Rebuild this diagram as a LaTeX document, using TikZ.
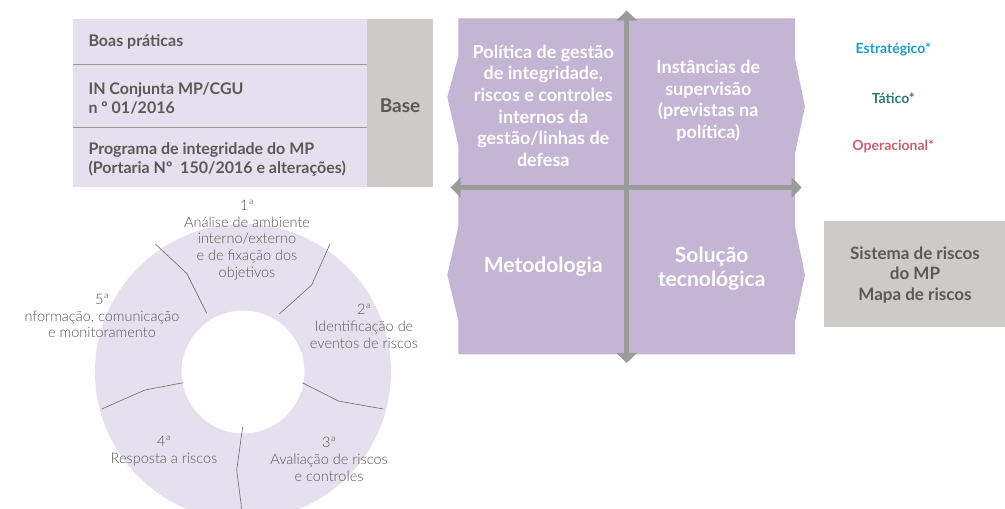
\documentclass[tikz,border=0pt]{standalone}
\usepackage{fontspec}
\setmainfont{Lato}
\newfontfamily\lightfont{Lato Light}
\usetikzlibrary{arrows.meta}
\definecolor{lav}{HTML}{E6E0EE}
\definecolor{purp}{HTML}{C5B5D5}
\definecolor{boxgray}{HTML}{CCCBC9}
\definecolor{txtgray}{HTML}{595959}
\definecolor{ringtxt}{HTML}{555555}
\definecolor{ringline}{HTML}{6A6A6A}
\definecolor{arrgray}{HTML}{9A9A9A}
\definecolor{cblue}{HTML}{1E9ACF}
\definecolor{cteal}{HTML}{2B7A78}
\definecolor{cred}{HTML}{C9606D}
\tikzset{
  basetxt/.style={anchor=west, text=txtgray, font=\bfseries\fontsize{16}{19}\selectfont, align=left, inner sep=0},
  ringlbl/.style={text=ringtxt, font=\lightfont\fontsize{14.5}{16.7}\selectfont, align=center, inner sep=0},
  quadtxt/.style={text=white, font=\bfseries\fontsize{18}{21.7}\selectfont, align=center, inner sep=0},
  bigquad/.style={text=white, font=\bfseries\fontsize{21}{23.3}\selectfont, align=center, inner sep=0},
  levtxt/.style={font=\bfseries\fontsize{14}{16}\selectfont, inner sep=0},
  divline/.style={draw=ringline, line width=0.6pt},
  axis/.style={draw=arrgray, line width=5pt, {Triangle[length=10pt,width=20pt]}-{Triangle[length=10pt,width=20pt]}}
}
\begin{document}
\begin{tikzpicture}[x=1pt,y=-1pt]
\useasboundingbox (0,0) rectangle (1005,509);
\clip (0,0) rectangle (1005,509);
% Base box
\fill[lav] (72.7,19) rectangle (366.7,186.7);
\fill[boxgray] (366.7,19) rectangle (433.3,186.7);
\draw[draw=arrgray, line width=0.8pt] (72.7,64.3) -- (366.7,64.3);
\draw[draw=arrgray, line width=0.8pt] (72.7,127.3) -- (366.7,127.3);
\node[basetxt] (bp) at (88.3,42.3) {Boas práticas};
\node[basetxt] (in) at (88.3,98.7) {IN Conjunta MP/CGU\\n º 01/2016};
\node[basetxt] (pi) at (88.3,159.5) {Programa de integridade do MP\\(Portaria Nº~ 150/2016 e alterações)};
\node[text=txtgray, font=\bfseries\fontsize{19}{22}\selectfont, inner sep=0] (base) at (400,105.7) {Base};
% Ring
\fill[lav, even odd rule] (243,372) circle (148) (243,372) circle (61.5);
\draw[divline] (155.3,244) -- (186.7,273.3) -- (206.7,313.3);
\draw[divline] (330,244) -- (311.7,285) -- (279.3,314);
\draw[divline] (302.3,382.7) -- (338.3,401) -- (383.3,409);
\draw[divline] (242.7,426.7) -- (236.7,470) -- (241.7,509);
\draw[divline] (183.3,382.7) -- (145,390) -- (101.7,409);
\node[ringlbl] (r1) at (247,240) {1ª\\Análise de ambiente\\interno/externo\\e de fixação dos\\objetivos};
\node[ringlbl] (r2) at (364,326.5) {2ª\\Identificação de\\eventos de riscos};
\node[ringlbl] (r3) at (329,459.5) {3ª\\Avaliação de riscos\\e controles};
\node[ringlbl] (r4) at (164,451) {4ª\\Resposta a riscos};
\node[ringlbl] (r5) at (102,316) {5ª\\nformação, comunicação\\e monitoramento};
% Matrix
\fill[purp] (458.3,18.3) -- (795,18.3) -- (795,58.3) -- (805,106.7) -- (795,153.3) -- (795,226.7) -- (805,275) -- (795,321.7) -- (795,354.3) -- (458.3,354.3) -- (458.3,320) -- (447.3,275) -- (458.3,226.7) -- (458.3,145) -- (447.3,97.3) -- (458.3,56.7) -- cycle;
\coordinate (vt) at (626.7,10.5);
\coordinate (vb) at (626.7,363);
\coordinate (hl) at (450.7,187.5);
\coordinate (hr) at (801.7,187.5);
\draw[axis] (vb) -- (vt);
\draw[axis] (hl) -- (hr);
\node[quadtxt] (q1) at (543.3,105.8) {Política de gestão\\de integridade,\\riscos e controles\\internos da\\gestão/linhas de\\defesa};
\node[quadtxt] (q2) at (708.3,100.8) {Instâncias de\\supervisão\\(previstas na\\política)};
\node[bigquad] (q3) at (543.3,267) {Metodologia};
\node[bigquad] (q4) at (711.7,268.6) {Solução\\tecnológica};
% Levels
\node[levtxt, text=cblue] (est) at (893.3,49.3) {Estratégico*};
\node[levtxt, text=cteal] (tat) at (893.3,98.3) {Tático*};
\node[levtxt, text=cred] (ope) at (893.3,146) {Operacional*};
% System box
\fill[boxgray] (824,221) rectangle (1005,326.7);
\node[text=txtgray, font=\bfseries\fontsize{17}{20.7}\selectfont, align=center, inner sep=0] (sis) at (915,275) {Sistema de riscos\\do MP\\Mapa de riscos};
\end{tikzpicture}
\end{document}
